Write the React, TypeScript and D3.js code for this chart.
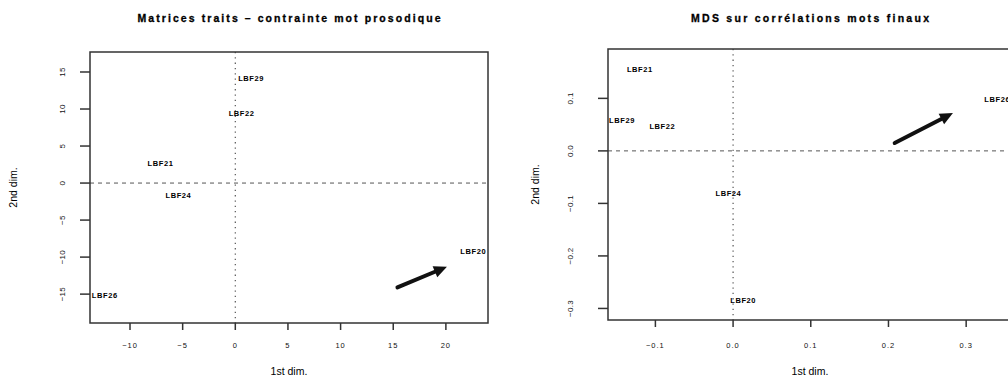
import React from "react";
import * as d3 from "d3";

const leftTitle = "Matrices traits – contrainte mot prosodique";
const rightTitle = "MDS sur corrélations mots finaux";
const xAxisTitle = "1st dim.";
const yAxisTitle = "2nd dim.";

const leftLabels = ["LBF29", "LBF22", "LBF21", "LBF24", "LBF26", "LBF20"];
const leftX = [1.5, 0.6, -7.1, -5.4, -12.4, 22.6];
const leftY = [14.1, 9.4, 2.6, -1.6, -15.2, -9.2];
const leftXTicks = [-10, -5, 0, 5, 10, 15, 20];
const leftYTicks = [-15, -10, -5, 0, 5, 10, 15];
const leftArrow = [15.4, -14.1, 20.1, -11.3];

const rightLabels = ["LBF21", "LBF29", "LBF22", "LBF24", "LBF20", "LBF26"];
const rightX = [-0.12, -0.143, -0.091, -0.006, 0.013, 0.34];
const rightY = [0.156, 0.059, 0.046, -0.08, -0.284, 0.099];
const rightXTicks = [-0.1, 0.0, 0.1, 0.2, 0.3];
const rightYTicks = [-0.3, -0.2, -0.1, 0.0, 0.1];
const rightArrow = [0.208, 0.015, 0.283, 0.072];

const FONT = "'Liberation Sans', Arial, sans-serif";

type PanelProps = {
  title: string;
  titleLen: number;
  labels: string[];
  xs: number[];
  ys: number[];
  xTicks: number[];
  yTicks: number[];
  arrow: number[];
  xDomain: [number, number];
  yDomain: [number, number];
  box: [number, number, number, number];
  fmt: (v: number) => string;
  yTitleX: number;
  yTickX: number;
  id: string;
};

function Panel(p: PanelProps) {
  const [L, T, R, B] = p.box;
  const x = d3.scaleLinear().domain(p.xDomain).range([L, R]);
  const y = d3.scaleLinear().domain(p.yDomain).range([B, T]);
  const cx = (L + R) / 2;
  const cy = (T + B) / 2;
  const [ax1, ay1, ax2, ay2] = p.arrow;
  const X1 = x(ax1), Y1 = y(ay1), X2 = x(ax2), Y2 = y(ay2);
  const ang = Math.atan2(Y2 - Y1, X2 - X1);
  const hl = 13, hw = 6;
  const bx = X2 - hl * Math.cos(ang), by = Y2 - hl * Math.sin(ang);
  const head = [
    [X2, Y2],
    [bx + hw * Math.sin(ang), by - hw * Math.cos(ang)],
    [bx - hw * Math.sin(ang), by + hw * Math.cos(ang)],
  ];
  const line = d3.line();
  return (
    <g>
      <defs>
        <clipPath id={p.id}>
          <rect x={L} y={T} width={R - L} height={B - T} />
        </clipPath>
      </defs>
      <text x={cx} y={22} textAnchor="middle" fontFamily={FONT} fontWeight="bold" fontSize={10.5} textLength={p.titleLen} lengthAdjust="spacing" fill="#000" stroke="#000" strokeWidth={0.3}>
        {p.title}
      </text>
      <g clipPath={`url(#${p.id})`}>
        <line x1={L} x2={R} y1={y(0)} y2={y(0)} stroke="#555" strokeWidth={1} strokeDasharray="4,4" />
        <line x1={x(0)} x2={x(0)} y1={T} y2={B} stroke="#555" strokeWidth={1.2} strokeDasharray="1.3,4" />
        {p.labels.map((lab, i) => (
          <text key={lab} x={x(p.xs[i])} y={y(p.ys[i])} dy="0.35em" textAnchor="middle" fontFamily={FONT} fontWeight="bold" fontSize={7.5} letterSpacing={0.6} fill="#000">
            {lab}
          </text>
        ))}
        <line x1={X1} y1={Y1} x2={bx} y2={by} stroke="#111" strokeWidth={4} strokeLinecap="round" />
        <path d={line(head as [number, number][]) + "Z"} fill="#111" />
      </g>
      <rect x={L} y={T} width={R - L} height={B - T} fill="none" stroke="#333" strokeWidth={1.5} />
      {p.xTicks.map((t) => (
        <g key={"x" + t}>
          <line x1={x(t)} x2={x(t)} y1={B} y2={B + 7} stroke="#333" strokeWidth={1.5} />
          <text x={x(t)} y={348} textAnchor="middle" fontFamily={FONT} fontSize={7.5} letterSpacing={1} fill="#111">
            {p.fmt(t).replace("-", "−")}
          </text>
        </g>
      ))}
      {p.yTicks.map((t) => (
        <g key={"y" + t}>
          <line x1={L - 10} x2={L} y1={y(t)} y2={y(t)} stroke="#333" strokeWidth={1.5} />
          <text x={p.yTickX} y={y(t)} textAnchor="middle" fontFamily={FONT} fontSize={8} letterSpacing={0.3} fill="#111" transform={`rotate(-90 ${p.yTickX} ${y(t)})`} dy="0.35em">
            {p.fmt(t)}
          </text>
        </g>
      ))}
      <text x={cx} y={375} textAnchor="middle" fontFamily={FONT} fontSize={10.5} fill="#000">
        {xAxisTitle}
      </text>
      <text x={p.yTitleX} y={cy} textAnchor="middle" dy="0.35em" fontFamily={FONT} fontSize={10.5} fill="#000" transform={`rotate(-90 ${p.yTitleX} ${cy})`}>
        {yAxisTitle}
      </text>
    </g>
  );
}

export default function App() {
  return (
    <svg width={1008} height={380} style={{ position: "absolute", left: 0, top: 0, background: "#fff" }}>
      <rect width={1008} height={380} fill="#fff" />
      <Panel
        id="cl"
        title={leftTitle}
        titleLen={303}
        labels={leftLabels}
        xs={leftX}
        ys={leftY}
        xTicks={leftXTicks}
        yTicks={leftYTicks}
        arrow={leftArrow}
        xDomain={[-13.8, 24.0]}
        yDomain={[-18.9, 17.7]}
        box={[90, 52, 488, 323]}
        fmt={(v) => d3.format("d")(v)}
        yTitleX={13}
        yTickX={62}
      />
      <Panel
        id="cr"
        title={rightTitle}
        titleLen={238}
        labels={rightLabels}
        xs={rightX}
        ys={rightY}
        xTicks={rightXTicks}
        yTicks={rightYTicks}
        arrow={rightArrow}
        xDomain={[-0.161, 0.359]}
        yDomain={[-0.322, 0.194]}
        box={[608, 49, 1012, 320]}
        fmt={(v) => d3.format(".1f")(v)}
        yTitleX={535}
        yTickX={570}
      />
    </svg>
  );
}
